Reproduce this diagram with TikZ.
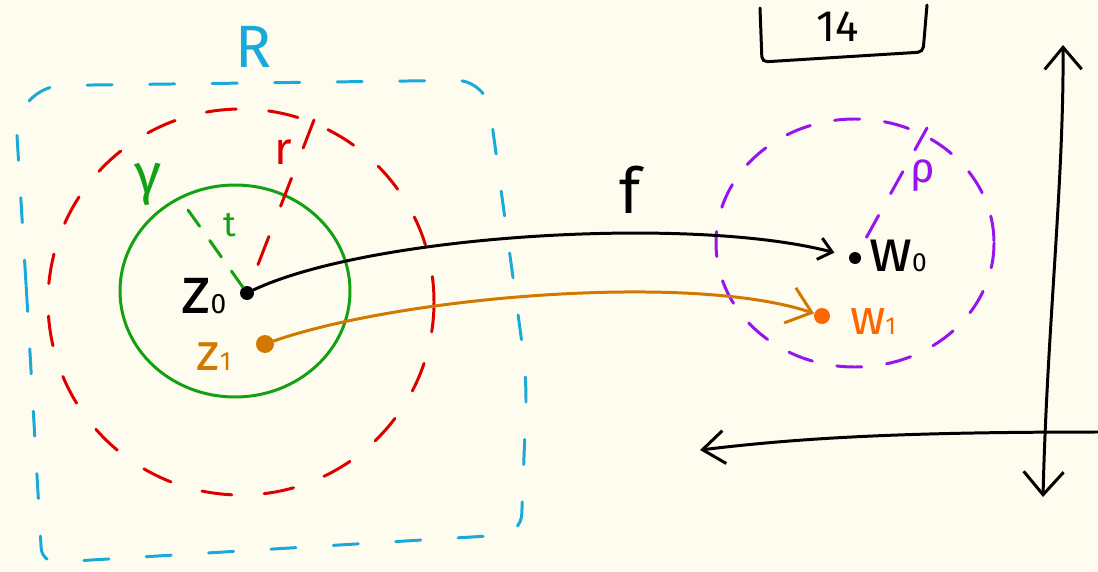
\documentclass[tikz,border=0pt]{standalone}
\usepackage{fontspec}
\setmainfont{Fira Sans}
\usetikzlibrary{arrows.meta, positioning}
\definecolor{paper}{RGB}{254,252,238}
\definecolor{domblue}{RGB}{25,170,220}
\definecolor{diskred}{RGB}{220,0,0}
\definecolor{loopgreen}{RGB}{20,160,20}
\definecolor{ptorange}{RGB}{210,120,0}
\definecolor{imgorange}{RGB}{255,102,0}
\definecolor{ballpurple}{RGB}{150,20,240}
\newcommand{\fsz}[1]{\fontsize{#1}{#1}\selectfont}
\newcommand{\lowidx}[2]{{\fsz{#1}#2}}
\tikzset{
  pen/.style     = {line width=1.7pt, line cap=round},
  domdash/.style = {pen, draw=domblue, dash pattern=on 0.5cm off 0.75cm},
  diskdash/.style= {pen, draw=diskred, dash pattern=on 0.6cm off 0.65cm},
  balldash/.style= {pen, draw=ballpurple, dash pattern=on 0.5cm off 0.5cm},
  raddash/.style = {pen, draw=loopgreen, dash pattern=on 0.4cm off 0.35cm},
  spot/.style    = {circle, fill, inner sep=0pt, minimum size=#1},
  spot/.default  = 0.28cm,
  lbl/.style     = {inner sep=0pt},
  fmap/.style    = {pen, -{Straight Barb[length=0.26cm, width=0.44cm]}},
  omap/.style    = {pen, draw=ptorange, -{Straight Barb[length=0.46cm, width=0.74cm]}},
  axis/.style    = {pen, {Straight Barb[length=0.46cm, width=0.8cm]}-{Straight Barb[length=0.44cm, width=0.74cm]}},
}

\begin{document}
\begin{tikzpicture}[x=0.02cm, y=-0.02cm]
  \useasboundingbox[fill=paper] (0,0) rectangle (1098,571);
  % domain R
  \draw[domdash] (27,300) [rounded corners=1cm] -- (14,86) [rounded corners=0.6cm] -- (486,80)
    -- (527,380) [rounded corners=0.4cm] -- (521,534) [rounded corners=0.3cm] -- (42,563) -- cycle;
  \node[lbl, domblue, font=\fsz{34}] (R) at (254,47) {R};
  % disk of radius r and loop gamma
  \draw[diskdash] (241,302) circle [radius=193];
  \draw[pen, loopgreen] (235,291) ellipse [x radius=115, y radius=106];
  \node[lbl, diskred, font=\fsz{26}] (r) at (283,152) {r};
  \node[lbl, loopgreen, font=\fsz{32}] (gamma) at (148,184) {γ};
  \node[lbl, loopgreen, font=\fsz{20}] (t) at (230,225) {t};
  % points in the domain
  \node[spot=0.28cm] (z0) at (247,293) {};
  \node[spot=0.36cm, ptorange] (z1) at (265,344) {};
  \node[lbl, font=\fsz{38}] (z0 lab) at (204,296) {z\lowidx{16}{0}};
  \node[lbl, ptorange, font=\fsz{30}] (z1 lab) at (214,357) {z\lowidx{15}{1}};
  \coordinate (r end) at (314,120);
  \coordinate (t end) at (188,210);
  \draw[diskdash] (r end) -- (z0);
  \draw[raddash] (t end) -- (z0);
  % image ball rho
  \draw[balldash] (855,243) ellipse [x radius=139, y radius=124];
  \node[spot=0.24cm] (w0) at (855,258) {};
  \node[spot=0.32cm, imgorange] (w1) at (822,316) {};
  \node[lbl, font=\fsz{34}] (w0 lab) at (898,256) {w\lowidx{15}{0}};
  \node[lbl, imgorange, font=\fsz{28}] (w1 lab) at (873,322) {w\lowidx{14}{1}};
  \node[lbl, ballpurple, font=\fsz{24}] (rho) at (923,176) {ρ};
  \coordinate (rho end) at (927,128);
  \draw[balldash] (rho end) -- (w0);
  % the map f
  \draw[fmap, shorten >=0.3cm] (z0) .. controls (370,235) and (690,215) .. (w0);
  \draw[omap] (z1) .. controls (400,297) and (690,272) .. (w1);
  \node[lbl, font=\fsz{36}] (f) at (630,190) {f};
  % axes
  \coordinate (y top) at (1063,45);
  \coordinate (y bot) at (1043,497);
  \coordinate (x right) at (1100,432);
  \coordinate (x left) at (700,450);
  \draw[axis] (y bot) .. controls (1047,330) and (1064,180) .. (y top);
  \draw[pen, -{Straight Barb[length=0.44cm, width=0.66cm]}] (x right) .. controls (900,432) and (800,438) .. (x left);
  % page number
  \draw[pen, rounded corners=3pt] (760,8) -- (762,62) -- (923,52) -- (927,5);
  \node[lbl, font=\fsz{25}] (page) at (838,27) {14};
\end{tikzpicture}
\end{document}
